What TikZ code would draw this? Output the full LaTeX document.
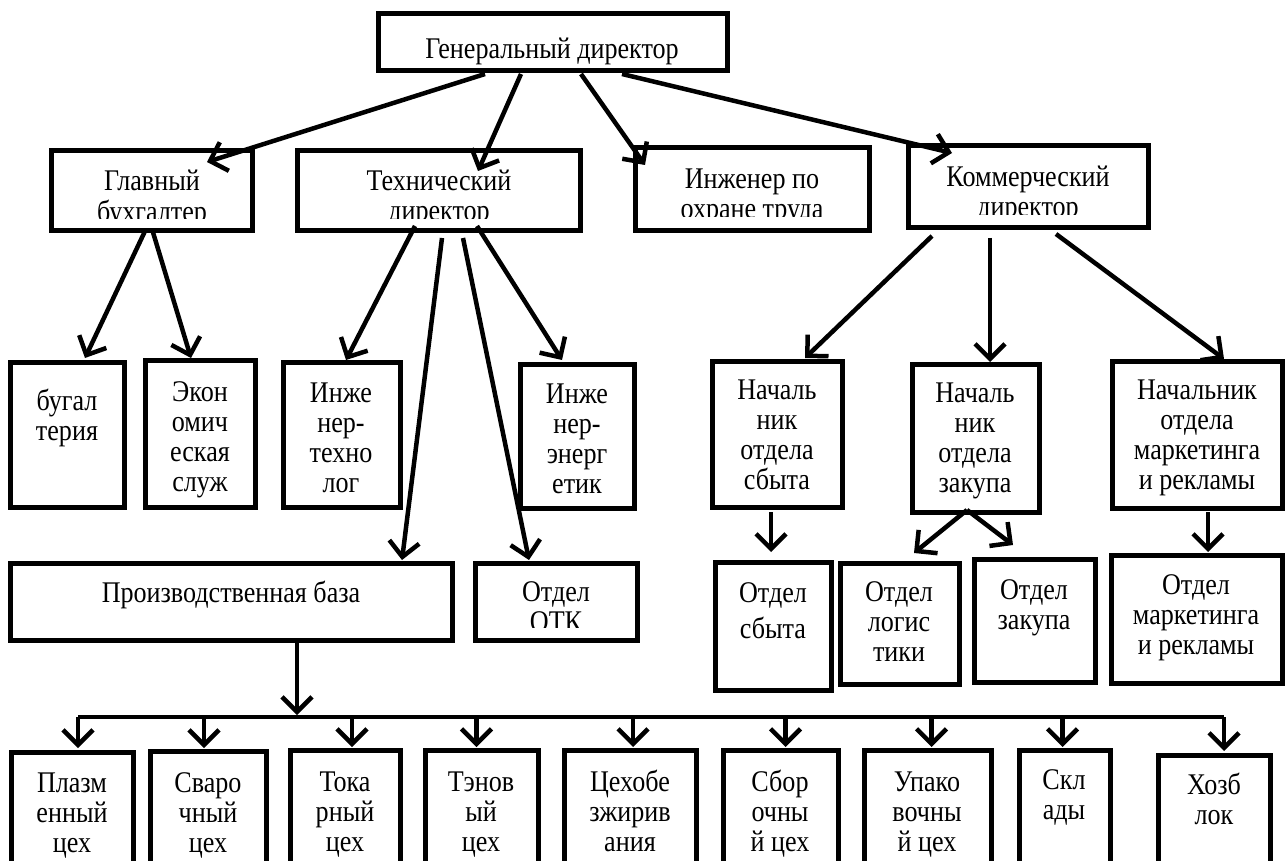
\documentclass[tikz,border=0pt]{standalone}
\usepackage{fontspec}
\setmainfont{Liberation Serif}[FakeStretch=0.87]
\usetikzlibrary{arrows.meta}
\newcommand{\mlines}[1]{\begin{tabular}[t]{@{}c@{}}#1\end{tabular}}
\newcommand{\mybx}[5]{\node[box,anchor=north west,minimum width={#4-#2},minimum height={#5-#3}] (#1) at (#2,#3) {};}
\begin{document}
\begin{tikzpicture}[x=1pt,y=-1pt,
  box/.style={draw,line width=5pt,inner sep=0pt,outer sep=0pt},
  txt/.style={anchor=base,inner sep=0pt,font=\fontsize{30}{30}\selectfont},
  arr/.style={line width=4.5pt,line join=round,-{Straight Barb[length=15pt,width=30pt]}},
  busline/.style={line width=4.5pt}]
\useasboundingbox (0,0) rectangle (1285,861);
\clip (0,0) rectangle (1285,861);
% boxes
\mybx{gd}{378}{14}{727}{71}
\mybx{gb}{51}{151}{252}{231}
\mybx{td}{297}{151}{580}{231}
\mybx{io}{635}{148}{869}{231}
\mybx{kd}{908}{146}{1148}{228}
\mybx{bug}{10}{362}{124}{507}
\mybx{eko}{145}{360}{255}{507}
\mybx{tex}{283}{362}{400}{507}
\mybx{ene}{520}{364}{634}{508}
\mybx{ns}{712}{361}{842}{507}
\mybx{nz}{912}{364}{1039}{512}
\mybx{nm}{1112}{361}{1282}{508}
\mybx{pb}{10}{563}{452}{640}
\mybx{otk}{475}{563}{637}{640}
\mybx{os}{715}{562}{831}{690}
\mybx{ol}{840}{563}{959}{684}
\mybx{oz}{974}{559}{1095}{682}
\mybx{om}{1111}{555}{1282}{683}
\mybx{c1}{11}{752}{133}{900}
\mybx{c2}{150}{751}{266}{900}
\mybx{c3}{290}{750}{400}{900}
\mybx{c4}{425}{750}{538}{900}
\mybx{c5}{564}{750}{696}{900}
\mybx{c6}{723}{750}{838}{900}
\mybx{c7}{864}{750}{991}{900}
\mybx{c8}{1019}{750}{1110}{900}
\mybx{c9}{1158}{755}{1270}{900}
% texts
\node[txt] (gd-t) at (552,59) {Генеральный директор};
\begin{scope}\clip (51,151) rectangle (252,219);
\node[txt] (gb-t) at (152,191) {\mlines{Главный\\бухгалтер}};\end{scope}
\begin{scope}\clip (297,151) rectangle (580,219);
\node[txt] (td-t) at (439,191) {\mlines{Технический\\директор}};\end{scope}
\begin{scope}\clip (635,148) rectangle (869,217);
\node[txt] (io-t) at (752,189) {\mlines{Инженер по\\охране труда}};\end{scope}
\begin{scope}\clip (908,146) rectangle (1148,215);
\node[txt] (kd-t) at (1028,187) {\mlines{Коммерческий\\директор}};\end{scope}
\node[txt] (bug-t) at (67,410) {\mlines{бугал\\терия}};
\node[txt] (eko-t) at (200,401) {\mlines{Экон\\омич\\еская\\служ}};
\node[txt] (tex-t) at (341,402) {\mlines{Инже\\нер-\\техно\\лог}};
\node[txt] (ene-t) at (577,403) {\mlines{Инже\\нер-\\энерг\\етик}};
\node[txt] (ns-t) at (777,399) {\mlines{Началь\\ник\\отдела\\сбыта}};
\node[txt] (nz-t) at (975,402) {\mlines{Началь\\ник\\отдела\\закупа}};
\node[txt] (nm-t) at (1197,399) {\mlines{Начальник\\отдела\\маркетинга\\и рекламы}};
\node[txt] (pb-t) at (231,602) {Производственная база};
\begin{scope}\clip (475,563) rectangle (637,627);
\node[txt] (otk-t) at (556,601) {\mlines{Отдел\\ОТК}};\end{scope}
\node[txt] (os-t) at (773,602) {\mlines{Отдел\\[6pt]сбыта}};
\node[txt] (ol-t) at (899,601) {\mlines{Отдел\\логис\\тики}};
\node[txt] (oz-t) at (1034,599) {\mlines{Отдел\\закупа}};
\node[txt] (om-t) at (1196,594) {\mlines{Отдел\\маркетинга\\и рекламы}};
\node[txt] (c1-t) at (72,792) {\mlines{Плазм\\енный\\цех}};
\node[txt] (c2-t) at (208,792) {\mlines{Сваро\\чный\\цех}};
\node[txt] (c3-t) at (345,791) {\mlines{Тока\\рный\\цех}};
\node[txt] (c4-t) at (481,791) {\mlines{Тэнов\\ый\\цех}};
\node[txt] (c5-t) at (630,791) {\mlines{Цехобе\\зжирив\\ания}};
\node[txt] (c6-t) at (780,791) {\mlines{Сбор\\очны\\й цех}};
\node[txt] (c7-t) at (927,791) {\mlines{Упако\\вочны\\й цех}};
\node[txt] (c8-t) at (1064,789) {\mlines{Скл\\ады}};
\node[txt] (c9-t) at (1214,794) {\mlines{Хозб\\лок}};
% arrows
\draw[arr] ([shift={(107,3)}]gd.south west) -- ([shift={(156,11)}]gb.north west);
\draw[arr] ([shift={(143,3)}]gd.south west) -- ([shift={(181,20)}]td.north west);
\draw[arr] ([shift={(203,3)}]gd.south west) -- ([shift={(10,17)}]io.north west);
\draw[arr] ([shift={(244,3)}]gd.south west) -- ([shift={(44,7)}]kd.north west);
\draw[arr] ([shift={(95,-2)}]gb.south west) -- ([shift={(75,-4)}]bug.north west);
\draw[arr] ([shift={(101,-2)}]gb.south west) -- ([shift={(46,-2)}]eko.north west);
\draw[arr] ([shift={(118,-5)}]td.south west) -- ([shift={(63,-2)}]tex.north west);
\draw[arr] ([shift={(145,7)}]td.south west) -- ([shift={(392,-3)}]pb.north west);
\draw[arr] ([shift={(166,7)}]td.south west) -- ([shift={(54,-3)}]otk.north west);
\draw[arr] ([shift={(180,-5)}]td.south west) -- ([shift={(42,-4)}]ene.north west);
\draw[arr] ([shift={(24,8)}]kd.south west) -- ([shift={(93,-3)}]ns.north west);
\draw[arr] ([shift={(82,10)}]kd.south west) -- ([shift={(78,-2)}]nz.north west);
\draw[arr] ([shift={(148,6)}]kd.south west) -- ([shift={(112,-2)}]nm.north west);
\draw[arr] ([shift={(59,5)}]ns.south west) -- ([shift={(56,-10)}]os.north west);
\draw[arr] ([shift={(55,-2)}]nz.south west) -- ([shift={(74,-10)}]ol.north west);
\draw[arr] ([shift={(55,-2)}]nz.south west) -- ([shift={(39,-14)}]oz.north west);
\draw[arr] ([shift={(96,4)}]nm.south west) -- ([shift={(97,-3)}]om.north west);
% bus
\coordinate (busL) at (78,717);
\coordinate (busR) at (1224,717);
\coordinate (busP) at (297,715);
\draw[arr] ([xshift=66pt]pb.south) -- (busP);
\draw[busline] (busL) -- (busR);
\draw[arr] (busL) -- ([shift={(6,-4)}]c1.north);
\draw[arr] ([xshift=-4pt]c2.north |- busL) -- ([shift={(-4,-3)}]c2.north);
\draw[arr] ([xshift=7pt]c3.north |- busL) -- ([shift={(7,-3)}]c3.north);
\draw[arr] ([xshift=-5pt]c4.north |- busL) -- ([shift={(-5,-3)}]c4.north);
\draw[arr] ([xshift=3pt]c5.north |- busL) -- ([shift={(3,-3)}]c5.north);
\draw[arr] ([xshift=5pt]c6.north |- busL) -- ([shift={(5,-3)}]c6.north);
\draw[arr] ([xshift=4pt]c7.north |- busL) -- ([shift={(4,-3)}]c7.north);
\draw[arr] ([xshift=-2pt]c8.north |- busL) -- ([shift={(-2,-3)}]c8.north);
\draw[arr] (busR) -- ([shift={(10,-4)}]c9.north);
\end{tikzpicture}
\end{document}
